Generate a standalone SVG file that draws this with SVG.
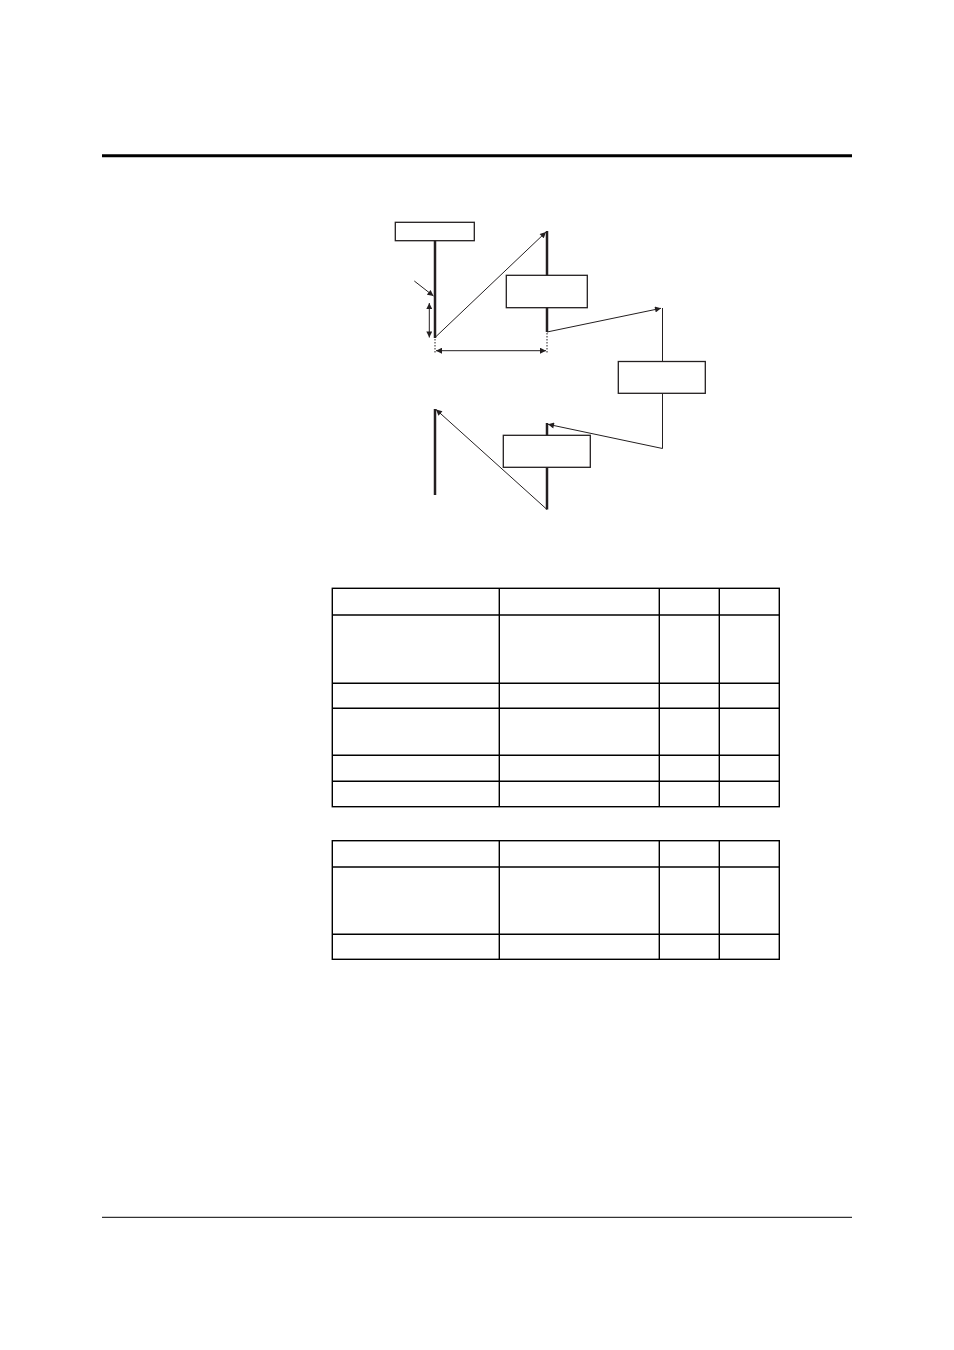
<svg xmlns="http://www.w3.org/2000/svg" width="954" height="1350" viewBox="0 0 954 1350">
<style>
.thick{stroke:#231f20;stroke-width:2.5;fill:none}
.thin{stroke:#231f20;stroke-width:1;fill:none}
.box{stroke:#231f20;stroke-width:1.3;fill:#fff}
.dot{stroke:#231f20;stroke-width:1;stroke-dasharray:1.5 1.5;fill:none}
.tbl{stroke:#000;stroke-width:1.4;fill:none}
</style>
<defs>
<marker id="ah" viewBox="0 0 10 10" refX="10" refY="5" markerWidth="8" markerHeight="6" markerUnits="userSpaceOnUse" orient="auto-start-reverse">
<path d="M0,0 L10,5 L0,10 z" fill="#231f20"/>
</marker>
</defs>
<rect width="954" height="1350" fill="#fff"/>
<line x1="102" y1="155.7" x2="852" y2="155.7" stroke="#000" stroke-width="3"/>
<line x1="102" y1="1217.3" x2="852" y2="1217.3" stroke="#000" stroke-width="1"/>

<g id="connectors">
<line class="thick" x1="435" y1="240" x2="435" y2="338"/>
<line class="thick" x1="547" y1="231" x2="547" y2="332"/>
<line class="thin" x1="435" y1="337.5" x2="546" y2="232" marker-end="url(#ah)"/>
<line class="thin" x1="547" y1="332" x2="661" y2="308.3" marker-end="url(#ah)"/>
<line class="thin" x1="662.5" y1="308" x2="662.5" y2="448.5"/>
<line class="thin" x1="662.5" y1="448.5" x2="548" y2="424.3" marker-end="url(#ah)"/>
<line class="thick" x1="547" y1="423" x2="547" y2="509.5"/>
<line class="thin" x1="547" y1="509.5" x2="436" y2="409.5" marker-end="url(#ah)"/>
<line class="thick" x1="435" y1="409" x2="435" y2="495"/>
<line class="thin" x1="414.3" y1="281" x2="433.5" y2="296" marker-end="url(#ah)"/>
<line class="thin" x1="429.3" y1="303" x2="429.3" y2="337.5" marker-start="url(#ah)" marker-end="url(#ah)"/>
<line class="dot" x1="435" y1="339" x2="435" y2="353"/>
<line class="dot" x1="547" y1="333" x2="547" y2="353"/>
<line class="thin" x1="436" y1="350.7" x2="546" y2="350.7" marker-start="url(#ah)" marker-end="url(#ah)"/>
</g>

<g id="box1"><rect class="box" x="395.3" y="222.3" width="79" height="18.4"/></g>
<g id="box2"><rect class="box" x="506.3" y="275.3" width="81" height="32.4"/></g>
<g id="box3"><rect class="box" x="618.3" y="361.5" width="87" height="31.8"/></g>
<g id="box4"><rect class="box" x="503.3" y="435.3" width="87" height="32"/></g>

<g id="table1">
<rect class="tbl" x="332.3" y="588.3" width="447" height="218.4"/>
<line class="tbl" x1="499.3" y1="588.3" x2="499.3" y2="806.7"/>
<line class="tbl" x1="659.3" y1="588.3" x2="659.3" y2="806.7"/>
<line class="tbl" x1="719.3" y1="588.3" x2="719.3" y2="806.7"/>
<line class="tbl" x1="332.3" y1="615" x2="779.3" y2="615"/>
<line class="tbl" x1="332.3" y1="683.3" x2="779.3" y2="683.3"/>
<line class="tbl" x1="332.3" y1="708.3" x2="779.3" y2="708.3"/>
<line class="tbl" x1="332.3" y1="755.3" x2="779.3" y2="755.3"/>
<line class="tbl" x1="332.3" y1="781.3" x2="779.3" y2="781.3"/>
</g>

<g id="table2">
<rect class="tbl" x="332.3" y="840.7" width="447" height="118.6"/>
<line class="tbl" x1="499.3" y1="840.7" x2="499.3" y2="959.3"/>
<line class="tbl" x1="659.3" y1="840.7" x2="659.3" y2="959.3"/>
<line class="tbl" x1="719.3" y1="840.7" x2="719.3" y2="959.3"/>
<line class="tbl" x1="332.3" y1="867" x2="779.3" y2="867"/>
<line class="tbl" x1="332.3" y1="934.3" x2="779.3" y2="934.3"/>
</g>
</svg>
